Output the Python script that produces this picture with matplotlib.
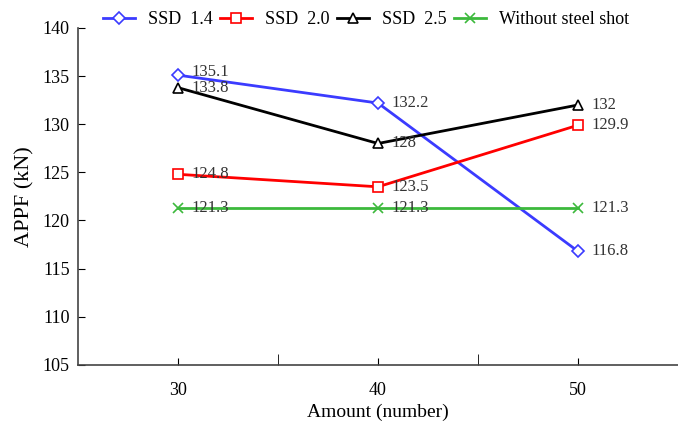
import matplotlib
matplotlib.use('Agg')
import matplotlib.pyplot as plt

plt.rcParams['font.family'] = 'Liberation Serif'

# data
amount = [30, 40, 50]
ssd_14 = [135.1, 132.2, 116.8]
ssd_20 = [124.8, 123.5, 129.9]
ssd_25 = [133.8, 128, 132]
no_shot = [121.3, 121.3, 121.3]

series = [
    ('SSD  1.4', ssd_14, '#3b3bff', 'D', 6),
    ('SSD  2.0', ssd_20, '#ff0000', 's', 7),
    ('SSD  2.5', ssd_25, '#000000', '^', 7),
    ('Without steel shot', no_shot, '#3cb93c', 'x', 7),
]

fig = plt.figure(figsize=(6.78, 4.37), dpi=100)
ax = fig.add_axes([0.115, 0.165, 0.885, 0.771])

for name, vals, col, mk, ms in series:
    ax.plot(amount, vals, color=col, lw=2, marker=mk, ms=ms,
            mfc='white' if mk != 'x' else col, mec=col, mew=1.2, label=name)
    for x, v in zip(amount, vals):
        dy = 2 if v == 135.1 else 0
        ax.annotate('%g' % v, (x, v), xytext=(10, dy), textcoords='offset points',
                    va='center', ha='left', fontsize=12, color='#333333')

ax.set_xlim(25, 55)
ax.set_ylim(105, 140)
ax.set_xticks(amount)
ax.set_xticks([35, 45], minor=True)
ax.set_yticks(range(105, 141, 5))

ax.tick_params(axis='x', which='major', direction='in', length=5, pad=12, labelsize=13)
ax.tick_params(axis='x', which='minor', direction='in', length=8)
ax.tick_params(axis='y', direction='in', length=5, pad=6, labelsize=13)

for s in ['top', 'right']:
    ax.spines[s].set_visible(False)
for s in ['left', 'bottom']:
    ax.spines[s].set_color('#444444')
    ax.spines[s].set_linewidth(1.2)

ax.set_xlabel('Amount (number)', fontsize=14)
ax.set_ylabel('APPF (kN)', fontsize=16, labelpad=6)

ax.legend(loc='center', bbox_to_anchor=(0.48, 1.025), ncol=4, frameon=False,
          fontsize=13, handlelength=1.8, columnspacing=0.4, handletextpad=0.7)

fig.savefig('out.png', dpi=100)
